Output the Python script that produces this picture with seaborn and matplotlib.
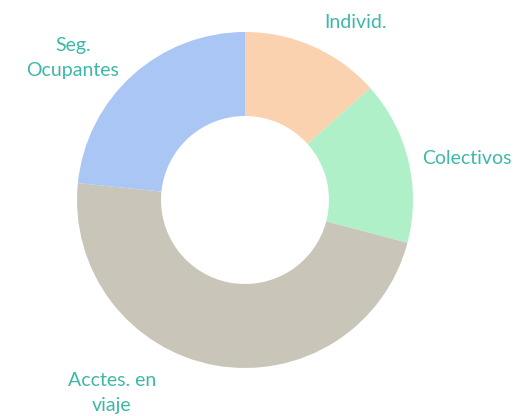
import matplotlib
matplotlib.use("Agg")
import matplotlib.pyplot as plt
import seaborn as sns

categories = ["Individ.", "Colectivos", "Acctes. en viaje", "Seg. Ocupantes"]
values = [13.4, 15.7, 47.5, 23.4]
colors = ["#FAD2B0", "#B0F0C8", "#C9C5B9", "#AAC6F4"]
label_texts = ["Individ.", "Colectivos", "Acctes. en\nviaje", "Seg.\nOcupantes"]

sns.set_theme(style="white")
plt.rcParams["font.family"] = ["Lato", "DejaVu Sans"]

W, H = 517, 416
fig = plt.figure(figsize=(W / 100, H / 100), dpi=100)
ax = fig.add_axes([0, 0, 1, 1])

cx, cy, r = 245, 200, 168
wedges, _ = ax.pie(values, colors=colors, startangle=90, counterclock=False,
                   radius=1.0, wedgeprops=dict(width=0.5, edgecolor="none"))

ax.set_xlim(-cx / r, (W - cx) / r)
ax.set_ylim(-(H - cy) / r, cy / r)
ax.set_aspect("equal")
ax.axis("off")

label_px = [(355, 23), (467, 158), (112, 393), (73, 58)]
for txt, (px, py) in zip(label_texts, label_px):
    ax.text((px - cx) / r, (cy - py) / r, txt, ha="center", va="center",
            color="#3DB8A8", fontsize=14, linespacing=1.55)

fig.savefig("out.png", dpi=100)
